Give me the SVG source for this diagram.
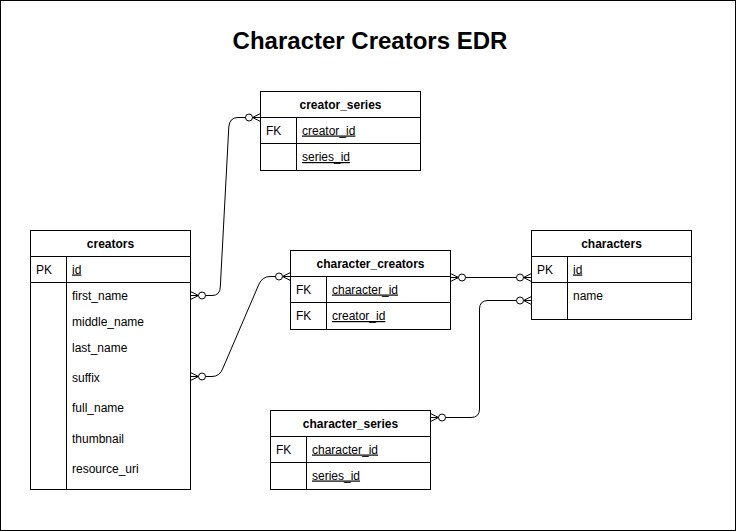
<svg xmlns="http://www.w3.org/2000/svg" width="736" height="531" viewBox="0 0 736 531">
<style>
.box{fill:#fff;stroke:#000;stroke-width:1}
.ln{fill:none;stroke:#000;stroke-width:1}
.h{font-family:"Liberation Sans",Arial,sans-serif;font-size:12px;font-weight:bold;text-anchor:middle;fill:#000}
.t{font-family:"Liberation Sans",Arial,sans-serif;font-size:12px;fill:#000}
.u{text-decoration:underline}
.title{font-family:"Liberation Sans",Arial,sans-serif;font-size:24px;font-weight:bold;text-anchor:middle;fill:#000}
.edge{fill:none;stroke:#000;stroke-width:1;marker-start:url(#zm);marker-end:url(#zm)}
</style>
<defs>
<marker id="zm" markerUnits="userSpaceOnUse" markerWidth="20" markerHeight="12" viewBox="-17 -6 20 12" refX="0" refY="0" orient="auto-start-reverse" overflow="visible">
<path d="M-8,0 L0,-4 M-8,0 L0,4 M-8,0 L0,0" fill="none" stroke="#000" stroke-width="1"/>
<circle cx="-11.5" cy="0" r="3.5" fill="#fff" stroke="#000" stroke-width="1"/>
</marker>
</defs>
<rect x="0.5" y="0.5" width="735" height="530" fill="#fff" stroke="#000"/>
<text class="title" x="370" y="49">Character Creators EDR</text>

<g id="creators">
<rect class="box" x="30.5" y="230.5" width="160" height="259"/>
<path class="ln" d="M30.5,256.5H190.5M30.5,282.5H190.5M66.5,256.5V489.5"/>
<text class="h" x="110.5" y="247.5">creators</text>
<text class="t" x="36" y="273.5">PK</text>
<text class="t u" x="72" y="273.5">id</text>
<text class="t" x="72" y="300">first_name</text>
<text class="t" x="72" y="326">middle_name</text>
<text class="t" x="72" y="352">last_name</text>
<text class="t" x="72" y="382">suffix</text>
<text class="t" x="72" y="412">full_name</text>
<text class="t" x="72" y="442.5">thumbnail</text>
<text class="t" x="72" y="472.5">resource_uri</text>
</g>

<g id="creator_series">
<rect class="box" x="260.5" y="91.5" width="160" height="79"/>
<path class="ln" d="M260.5,117.5H420.5M260.5,143.5H420.5M296.5,117.5V170.5"/>
<text class="h" x="340.5" y="108.5">creator_series</text>
<text class="t" x="266" y="134.5">FK</text>
<text class="t u" x="302" y="134.5">creator_id</text>
<text class="t u" x="302" y="161">series_id</text>
</g>

<g id="character_creators">
<rect class="box" x="290.5" y="250.5" width="160" height="79"/>
<path class="ln" d="M290.5,276.5H450.5M290.5,302.5H450.5M326.5,276.5V329.5"/>
<text class="h" x="370.5" y="267.5">character_creators</text>
<text class="t" x="296" y="293.5">FK</text>
<text class="t u" x="332" y="293.5">character_id</text>
<text class="t" x="296" y="320">FK</text>
<text class="t u" x="332" y="320">creator_id</text>
</g>

<g id="characters">
<rect class="box" x="531.5" y="230.5" width="160" height="89"/>
<path class="ln" d="M531.5,256.5H691.5M531.5,282.5H691.5M567.5,256.5V319.5"/>
<text class="h" x="611.5" y="247.5">characters</text>
<text class="t" x="537" y="273.5">PK</text>
<text class="t u" x="573" y="273.5">id</text>
<text class="t" x="573" y="300">name</text>
</g>

<g id="character_series">
<rect class="box" x="270.5" y="410.5" width="160" height="79"/>
<path class="ln" d="M270.5,436.5H430.5M270.5,462.5H430.5M306.5,436.5V489.5"/>
<text class="h" x="350.5" y="427.5">character_series</text>
<text class="t" x="276" y="453.5">FK</text>
<text class="t u" x="312" y="453.5">character_id</text>
<text class="t u" x="312" y="479.5">series_id</text>
</g>

<g id="connectors">
<path class="edge" d="M190.5,295.5H212Q220,295.5 220.3,287L228.8,127Q229.5,117.5 238,117.5H260.5"/>
<path class="edge" d="M190.5,376.5H212Q220,376.5 223,368L259,284Q262.5,276.5 270,276.5H290.5"/>
<path class="edge" d="M450.5,277.5H531.5"/>
<path class="edge" d="M430.5,417.5H471Q479.5,417.5 479.5,409V309Q479.5,300.5 488,300.5H531.5"/>
</g>
</svg>
